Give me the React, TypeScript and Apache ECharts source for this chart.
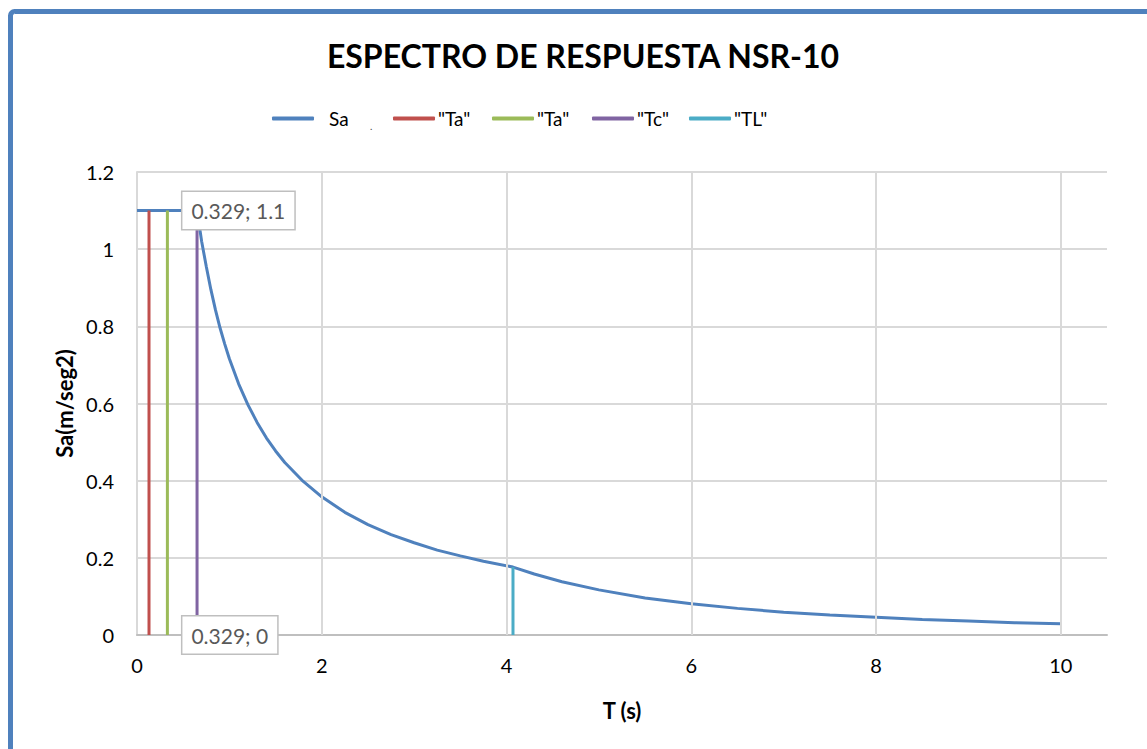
import React, { useEffect, useRef } from "react";
import * as echarts from "echarts";

// Spectrum Sa(T)
const T_VALUES = [0, 0.65, 0.7, 0.75, 0.8, 0.85, 0.9, 0.95, 1.0, 1.1, 1.2, 1.3, 1.4, 1.5, 1.6, 1.8, 2.0, 2.25, 2.5, 2.75, 3.0, 3.25, 3.5, 3.75, 4.07, 4.3, 4.6, 5.0, 5.5, 6.0, 6.5, 7.0, 7.5, 8.0, 8.5, 9.0, 9.5, 10.0];
const SA_VALUES = [1.1, 1.1, 1.02, 0.955, 0.895, 0.842, 0.795, 0.754, 0.716, 0.651, 0.597, 0.551, 0.511, 0.477, 0.447, 0.398, 0.358, 0.318, 0.286, 0.26, 0.239, 0.22, 0.205, 0.191, 0.176, 0.158, 0.138, 0.117, 0.096, 0.081, 0.069, 0.059, 0.052, 0.046, 0.04, 0.036, 0.032, 0.029];

// Vertical period markers
const TA1_X = [0.13, 0.13];
const TA1_Y = [0, 1.1];
const TA2_X = [0.329, 0.329];
const TA2_Y = [0, 1.1];
const TC_X = [0.65, 0.65];
const TC_Y = [0, 1.1];
const TL_X = [4.07, 4.07];
const TL_Y = [0, 0.176];

const X_GRID_TICKS = [2, 4, 6, 8, 10];
const SERIES_NAMES = ["Sa", '"Ta"', '"Ta" ', '"Tc"', '"TL"'];
const COLORS = ["#4f81bd", "#c0504d", "#9bbb59", "#8064a2", "#4bacc6"];

const FONT = "Lato, 'Open Sans', sans-serif";

const pairs = (xs: number[], ys: number[]) => xs.map((x, i) => [x, ys[i]]);

export default function App() {
  const ref = useRef<HTMLDivElement>(null);
  useEffect(() => {
    if (!ref.current) return;
    const chart = echarts.init(ref.current, null, { renderer: "svg" });
    const legendLefts = [272, 393, 492, 592, 689];
    const legends = SERIES_NAMES.map((n, i) => ({
      data: [n],
      left: legendLefts[i],
      top: 109,
      padding: 0,
      icon: "roundRect",
      itemWidth: 42,
      itemHeight: 4,
      selectedMode: false,
      formatter: (s: string) => s.trim(),
      textStyle: {
        fontFamily: FONT,
        fontSize: 19,
        color: "#000",
        padding: i === 0 ? [0, 0, 5, 10] : [0, 0, 0, -2],
      },
    }));
    const lineSeries = (idx: number, data: number[][], extra: any = {}) => ({
      name: SERIES_NAMES[idx],
      type: "line",
      data,
      symbol: "none",
      lineStyle: { color: COLORS[idx], width: 3 },
      itemStyle: { color: COLORS[idx] },
      z: 3,
      ...extra,
    });
    chart.setOption({
      animation: false,
      backgroundColor: "#fff",
      title: {
        text: "ESPECTRO DE RESPUESTA NSR-10",
        left: 578,
        textAlign: "center",
        top: 34,
        textStyle: { fontFamily: FONT, fontSize: 32, fontWeight: "bold", color: "#000" },
      },
      legend: legends,
      grid: { left: 137, right: 40, top: 172, bottom: 114 },
      xAxis: {
        type: "value",
        min: 0,
        max: 10.5,
        interval: 2,
        name: "T (s)",
        nameLocation: "middle",
        nameGap: 64,
        nameTextStyle: { fontFamily: FONT, fontSize: 22, fontWeight: "bold", color: "#000" },
        axisLine: { show: true, lineStyle: { color: "#bfbfbf", width: 2 } },
        axisTick: { show: false },
        splitLine: { show: false },
        axisLabel: {
          fontFamily: FONT,
          fontSize: 20,
          color: "#000",
          margin: 20,
          showMaxLabel: false,
          formatter: (v: number) => (v > 10 ? "" : String(v)),
        },
      },
      yAxis: {
        type: "value",
        min: 0,
        max: 1.2,
        interval: 0.2,
        name: "Sa(m/seg2)",
        nameLocation: "middle",
        nameGap: 60,
        nameTextStyle: { fontFamily: FONT, fontSize: 22, fontWeight: "bold", color: "#000" },
        axisLine: { show: true, lineStyle: { color: "#d9d9d9", width: 2 } },
        axisTick: { show: false },
        splitLine: { show: true, lineStyle: { color: "#d9d9d9", width: 2 } },
        axisLabel: {
          fontFamily: FONT,
          fontSize: 20,
          color: "#000",
          margin: 23,
          formatter: (v: number) => String(Math.round(v * 10) / 10),
        },
      },
      graphic: [
        {
          type: "rect",
          shape: { x: 10.5, y: 11.5, width: 1400, height: 1000, r: 4 },
          style: { fill: "none", stroke: "#4f81bd", lineWidth: 5 },
          silent: true,
        },
        {
          type: "text",
          x: 370,
          y: 121,
          style: { text: ".", fontSize: 10, fill: "#444", fontFamily: FONT },
          silent: true,
        },
      ],
      series: [
        {
          type: "line",
          data: [],
          silent: true,
          z: 1,
          markLine: {
            silent: true,
            symbol: "none",
            label: { show: false },
            lineStyle: { color: "#d9d9d9", width: 2, type: "solid" },
            data: X_GRID_TICKS.map((x) => ({ xAxis: x })),
          },
        },
        lineSeries(0, pairs(T_VALUES, SA_VALUES)),
        lineSeries(1, pairs(TA1_X, TA1_Y)),
        lineSeries(3, pairs(TC_X, TC_Y)),
        lineSeries(4, pairs(TL_X, TL_Y)),
        lineSeries(2, pairs(TA2_X, TA2_Y), {
          z: 6,
          symbol: "circle",
          symbolSize: 0.1,
          showSymbol: true,
          label: {
            show: true,
            position: "right",
            distance: 15,
            formatter: (p: any) => `${p.value[0]}; ${p.value[1]}`,
            backgroundColor: "#fff",
            borderColor: "#bfbfbf",
            borderWidth: 1.5,
            padding: [9, 9, 7, 9],
            fontFamily: FONT,
            fontSize: 21,
            color: "#595959",
          },
        }),
      ],
    });
    return () => chart.dispose();
  }, []);
  return (
    <div style={{ position: "fixed", left: 0, top: 0, width: 1147, height: 749 }}>
      <div ref={ref} style={{ width: 1147, height: 749 }} />
    </div>
  );
}
